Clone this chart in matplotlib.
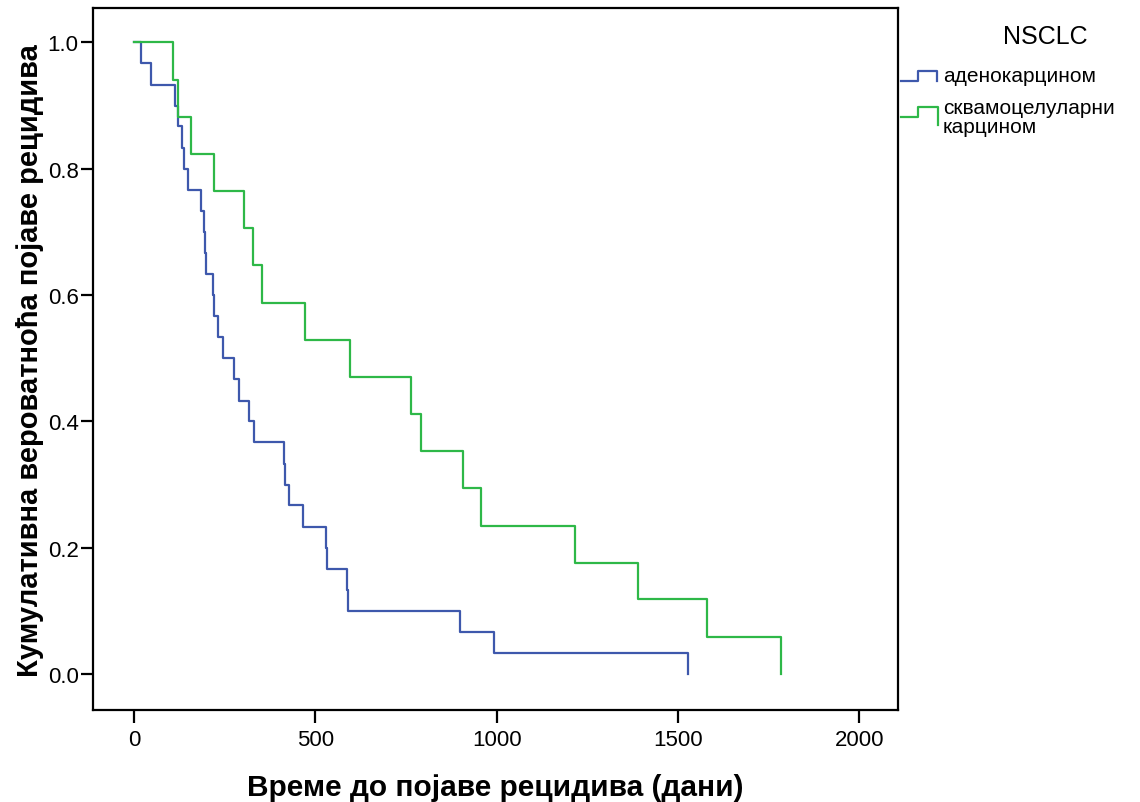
import matplotlib
matplotlib.use("Agg")
import matplotlib.pyplot as plt
from matplotlib.lines import Line2D

plt.rcParams['font.family'] = ['Liberation Sans', 'DejaVu Sans']

# времена рецидива (дани) и кумулативна вероватноћа после сваког догађаја
adeno_days = [18, 45, 112, 121, 133, 136, 148, 183, 192, 196, 199, 217, 221, 231, 245,
              275, 290, 316, 329, 412, 417, 426, 466, 530, 532, 586, 591, 899, 993, 1528]
adeno_surv = [0.967, 0.933, 0.900, 0.867, 0.833, 0.800, 0.767, 0.733, 0.700, 0.667,
              0.633, 0.600, 0.567, 0.533, 0.500, 0.467, 0.433, 0.400, 0.367, 0.333,
              0.300, 0.267, 0.233, 0.200, 0.167, 0.133, 0.100, 0.067, 0.033, 0.000]

squam_days = [107, 120, 156, 219, 304, 328, 353, 470, 594, 764, 791, 907, 956,
              1216, 1391, 1581, 1784]
squam_surv = [0.941, 0.882, 0.824, 0.765, 0.706, 0.647, 0.588, 0.529, 0.471, 0.412,
              0.353, 0.294, 0.235, 0.176, 0.118, 0.059, 0.000]

group_names = ['аденокарцином', 'сквамоцелуларни\nкарцином']
x_ticks = [0, 500, 1000, 1500, 2000]
y_ticks = [0.0, 0.2, 0.4, 0.6, 0.8, 1.0]

blue = '#3E58AC'
green = '#2EB848'

W, H = 1140, 803
fig = plt.figure(figsize=(W / 100, H / 100), dpi=100)
ax = fig.add_axes([93.3 / W, 1 - 711 / H, (898 - 93.3) / W, (711 - 9.3) / H])

ax.step([0] + adeno_days, [1.0] + adeno_surv, where='post', color=blue, lw=1.6)
ax.step([0] + squam_days, [1.0] + squam_surv, where='post', color=green, lw=1.6)

ax.set_xlim(-113, 2107)
ax.set_ylim(-0.057, 1.054)
ax.set_xticks(x_ticks)
ax.set_xticklabels([str(t) for t in x_ticks])
ax.set_yticks(y_ticks)
ax.set_yticklabels([f'{t:.1f}' for t in y_ticks])

for s in ax.spines.values():
    s.set_linewidth(1.6)
ax.tick_params(axis='both', direction='out', length=9, width=1.6, labelsize=16)
ax.tick_params(axis='x', pad=5)
ax.tick_params(axis='y', pad=1.5)

ax.set_xlabel('Време до појаве рецидива (дани)', fontsize=21.5, fontweight='bold', labelpad=16)
ax.set_ylabel('Кумулативна вероватноћа појаве рецидива', fontsize=21, fontweight='bold',
              labelpad=3)

# легенда десно од графика
def px(x, y):
    return x / W, 1 - y / H

fig.text(*px(1045, 37), 'NSCLC', fontsize=18, ha='center', va='center')

bx = [901, 918, 918, 937, 937]
by = [82, 82, 72, 72, 82]
fig.add_artist(Line2D([x / W for x in bx], [1 - y / H for y in by], color=blue, lw=1.6))
gx = [901, 918, 918, 938, 938]
gy = [118, 118, 108, 108, 126]
fig.add_artist(Line2D([x / W for x in gx], [1 - y / H for y in gy], color=green, lw=1.6))

fig.text(*px(943, 77), group_names[0], fontsize=15, ha='left', va='center')
fig.text(*px(943, 118), group_names[1], fontsize=15, ha='left', va='center',
         linespacing=1.05)

fig.savefig('out.png', dpi=100)
